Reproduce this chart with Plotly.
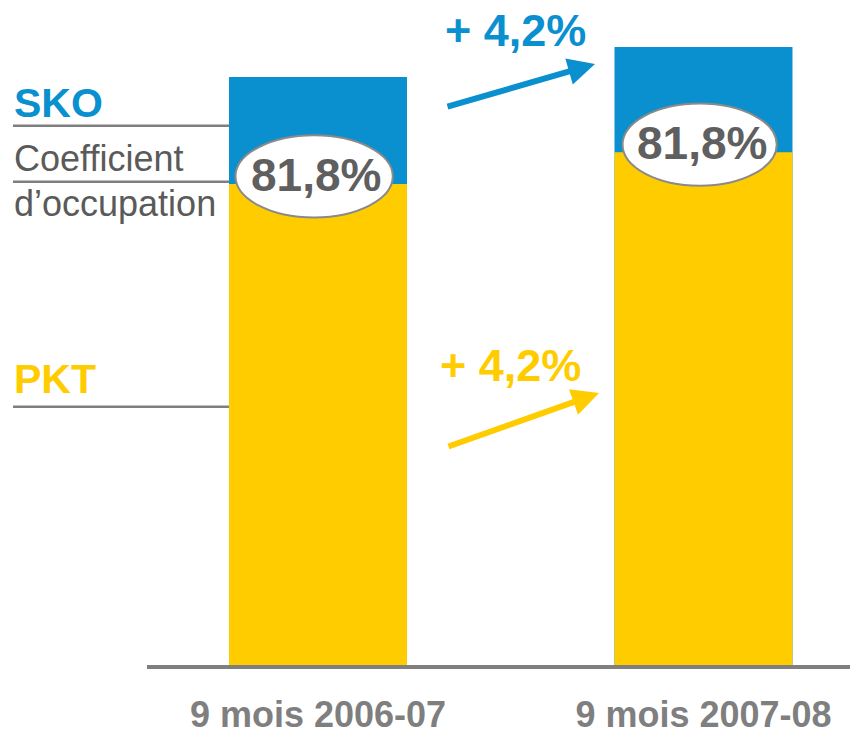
import plotly.graph_objects as go

# ---- data ----
periods = ["9 mois 2006-07", "9 mois 2007-08"]
sko = [100.0, 105.1]          # total bar height (SKO)
pkt = [81.8, 87.2]            # PKT part
load_factor = [81.8, 81.8]    # coefficient d'occupation (%)
sko_growth = 4.2
pkt_growth = 4.2

BLUE = "#0A8FCF"
YELLOW = "#FFCC00"
GRAY_LINE = "#7f7f7f"
FONT = "Liberation Sans, Arial, sans-serif"

W = 850
H = 729
ML, MB = 147, 64
PW, PH = W - ML, H - MB
bar_w = 0.4617
unit_px = 385.5
x_left = -171 / unit_px
x_right = x_left + PW / unit_px
y_top = PH / 5.88

def fmt(v):
    return f"{v:.1f}".replace(".", ",")

xs = [0, 1]
fig = go.Figure()
fig.add_trace(go.Bar(x=xs, y=sko, width=bar_w, marker=dict(color=BLUE, line=dict(width=0)),
                     name="SKO", hoverinfo="skip"))
fig.add_trace(go.Bar(x=xs, y=pkt, width=bar_w, marker=dict(color=YELLOW, line=dict(width=0)),
                     name="PKT", hoverinfo="skip"))

shapes = []
annotations = []

# ellipses with load factor
ell_hw = [0.204, 0.2]
for i, x in enumerate(xs):
    cy = pkt[i] + 1.3
    shapes.append(dict(type="circle", xref="x", yref="y",
                       x0=x - ell_hw[i] - 0.01, x1=x + ell_hw[i] - 0.01,
                       y0=cy - 7.0, y1=cy + 7.0,
                       fillcolor="white", line=dict(color="#8a8a8a", width=2), layer="above"))
    annotations.append(dict(xref="x", yref="y", x=x - 0.005, y=cy + 0.2, text=f"<b>{fmt(load_factor[i])}%</b>",
                            showarrow=False, font=dict(family=FONT, size=46, color="#5f5f5f"),
                            xanchor="center", yanchor="middle"))

def py(px):
    return 1 - px / PH

def pxx(px):
    return (px - ML) / PW

# left legend lines
for ypx in [125.7, 181.7, 406.7]:
    shapes.append(dict(type="line", xref="paper", yref="paper",
                       x0=pxx(13), x1=pxx(229), y0=py(ypx), y1=py(ypx),
                       line=dict(color=GRAY_LINE, width=2.5)))

# left labels
annotations += [
    dict(xref="paper", yref="paper", x=pxx(12), y=py(103), text="<b>SKO</b>", showarrow=False,
         xanchor="left", yanchor="middle", font=dict(family=FONT, size=41, color=BLUE)),
    dict(xref="paper", yref="paper", x=pxx(12), y=py(158), text="Coefficient", showarrow=False,
         xanchor="left", yanchor="middle", font=dict(family=FONT, size=36, color="#5a5a5a")),
    dict(xref="paper", yref="paper", x=pxx(12), y=py(204), text="d’occupation", showarrow=False,
         xanchor="left", yanchor="middle", font=dict(family=FONT, size=36, color="#5a5a5a")),
    dict(xref="paper", yref="paper", x=pxx(12), y=py(378.5), text="<b>PKT</b>", showarrow=False,
         xanchor="left", yanchor="middle", font=dict(family=FONT, size=41, color=YELLOW)),
]

# growth arrows
annotations += [
    dict(xref="paper", yref="paper", x=pxx(595), y=py(64), ax=446 - 595, ay=107 - 64,
         axref="pixel", ayref="pixel", text="", showarrow=True, arrowhead=2, arrowsize=0.9,
         arrowwidth=6, arrowcolor=BLUE),
    dict(xref="paper", yref="paper", x=pxx(599), y=py(393), ax=447 - 599, ay=447 - 393,
         axref="pixel", ayref="pixel", text="", showarrow=True, arrowhead=2, arrowsize=0.9,
         arrowwidth=6, arrowcolor=YELLOW),
    dict(xref="paper", yref="paper", x=pxx(515), y=py(31), text=f"<b>+ {fmt(sko_growth)}%</b>",
         showarrow=False, xanchor="center", yanchor="middle", borderpad=0,
         font=dict(family=FONT, size=45, color=BLUE)),
    dict(xref="paper", yref="paper", x=pxx(510), y=py(365), text=f"<b>+ {fmt(pkt_growth)}%</b>",
         showarrow=False, xanchor="center", yanchor="middle",
         font=dict(family=FONT, size=45, color=YELLOW)),
]

fig.update_layout(
    width=W, height=H,
    margin=dict(l=ML, r=0, t=0, b=MB, autoexpand=False),
    paper_bgcolor="white", plot_bgcolor="white",
    barmode="overlay", showlegend=False,
    shapes=shapes, annotations=annotations,
    xaxis=dict(range=[x_left, x_right], tickvals=xs, ticktext=[f"<b>{p}</b>" for p in periods],
               showgrid=False, zeroline=False, showline=True, linecolor=GRAY_LINE, linewidth=3.5,
               ticks="", ticklabelstandoff=15, automargin=False,
               tickfont=dict(family=FONT, size=36, color="#7f7f7f")),
    yaxis=dict(range=[0, y_top], visible=False, showgrid=False, zeroline=False, automargin=False),
)

fig.write_html("out.html", config={"displayModeBar": False},
               post_script="document.body.style.margin='0';document.body.style.overflow='hidden';")
